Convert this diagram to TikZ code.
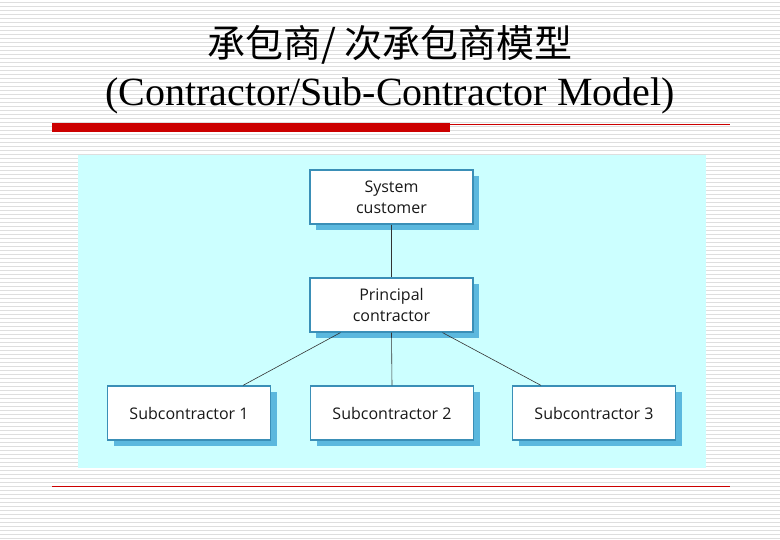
\documentclass[tikz,border=0pt]{standalone}
\usepackage{fontspec}
\setmainfont{Liberation Serif}
\newfontfamily\cjk{Noto Sans CJK SC}
\newfontfamily\boxfont{Open Sans}
\definecolor{panel}{HTML}{CCFFFF}
\definecolor{shadowc}{HTML}{5BB8DE}
\definecolor{edgec}{HTML}{3A8FB7}
\definecolor{redc}{HTML}{CC0000}
\tikzset{
  orgbox/.style={draw=edgec, line width=1.2pt, fill=white, minimum width=163pt, minimum height=54pt, align=center, font=\boxfont\fontsize{16}{21}\selectfont, inner sep=0pt, text=black!90},
  shadowbox/.style={fill=shadowc, minimum width=163pt, minimum height=54pt, inner sep=0pt},
  link/.style={draw=black!80, line width=0.6pt}
}
\begin{document}
\begin{tikzpicture}[x=1pt,y=-1pt]
\useasboundingbox (0,0) rectangle (780,540);
\fill[white] (0,0) rectangle (780,540);
\foreach \i in {0,...,134} { \draw[black!13, line width=0.8pt] (0,\i*4+2) -- (780,\i*4+2); }
\node[font=\cjk\fontsize{38}{42}\selectfont] (t1) at (390,45) {承包商/ 次承包商模型};
\node[font=\fontsize{40}{44}\selectfont] (t2) at (390,96) {(Contractor/Sub-Contractor Model)};
\fill[redc] (52,123) rectangle (450,132);
\draw[redc, line width=0.6pt] (450,124) -- (730,124);
\draw[redc, line width=0.6pt] (52,486) -- (730,486);
\fill[panel] (78,155) rectangle (706,468);
\foreach \n/\x/\y in {a/391.5/197, b/391.5/305, c/189/413, d/392/413, e/594/413}
  \node[shadowbox] (s\n) at (\x+6,\y+6) {};
\node[orgbox] (cust) at (391.5,197) {System\\customer};
\node[orgbox] (prin) at (391.5,305) {Principal\\contractor};
\node[orgbox] (sub1) at (189,413) {Subcontractor 1};
\node[orgbox] (sub2) at (392,413) {Subcontractor 2};
\node[orgbox] (sub3) at (594,413) {Subcontractor 3};
\draw[link] (cust.south) -- (prin.north);
\draw[link] (prin.south) -- (sub2.north);
\draw[link] ([xshift=-51pt]prin.south) -- ([xshift=54pt]sub1.north);
\draw[link] ([xshift=51pt]prin.south) -- ([xshift=-53pt]sub3.north);
\end{tikzpicture}
\end{document}
